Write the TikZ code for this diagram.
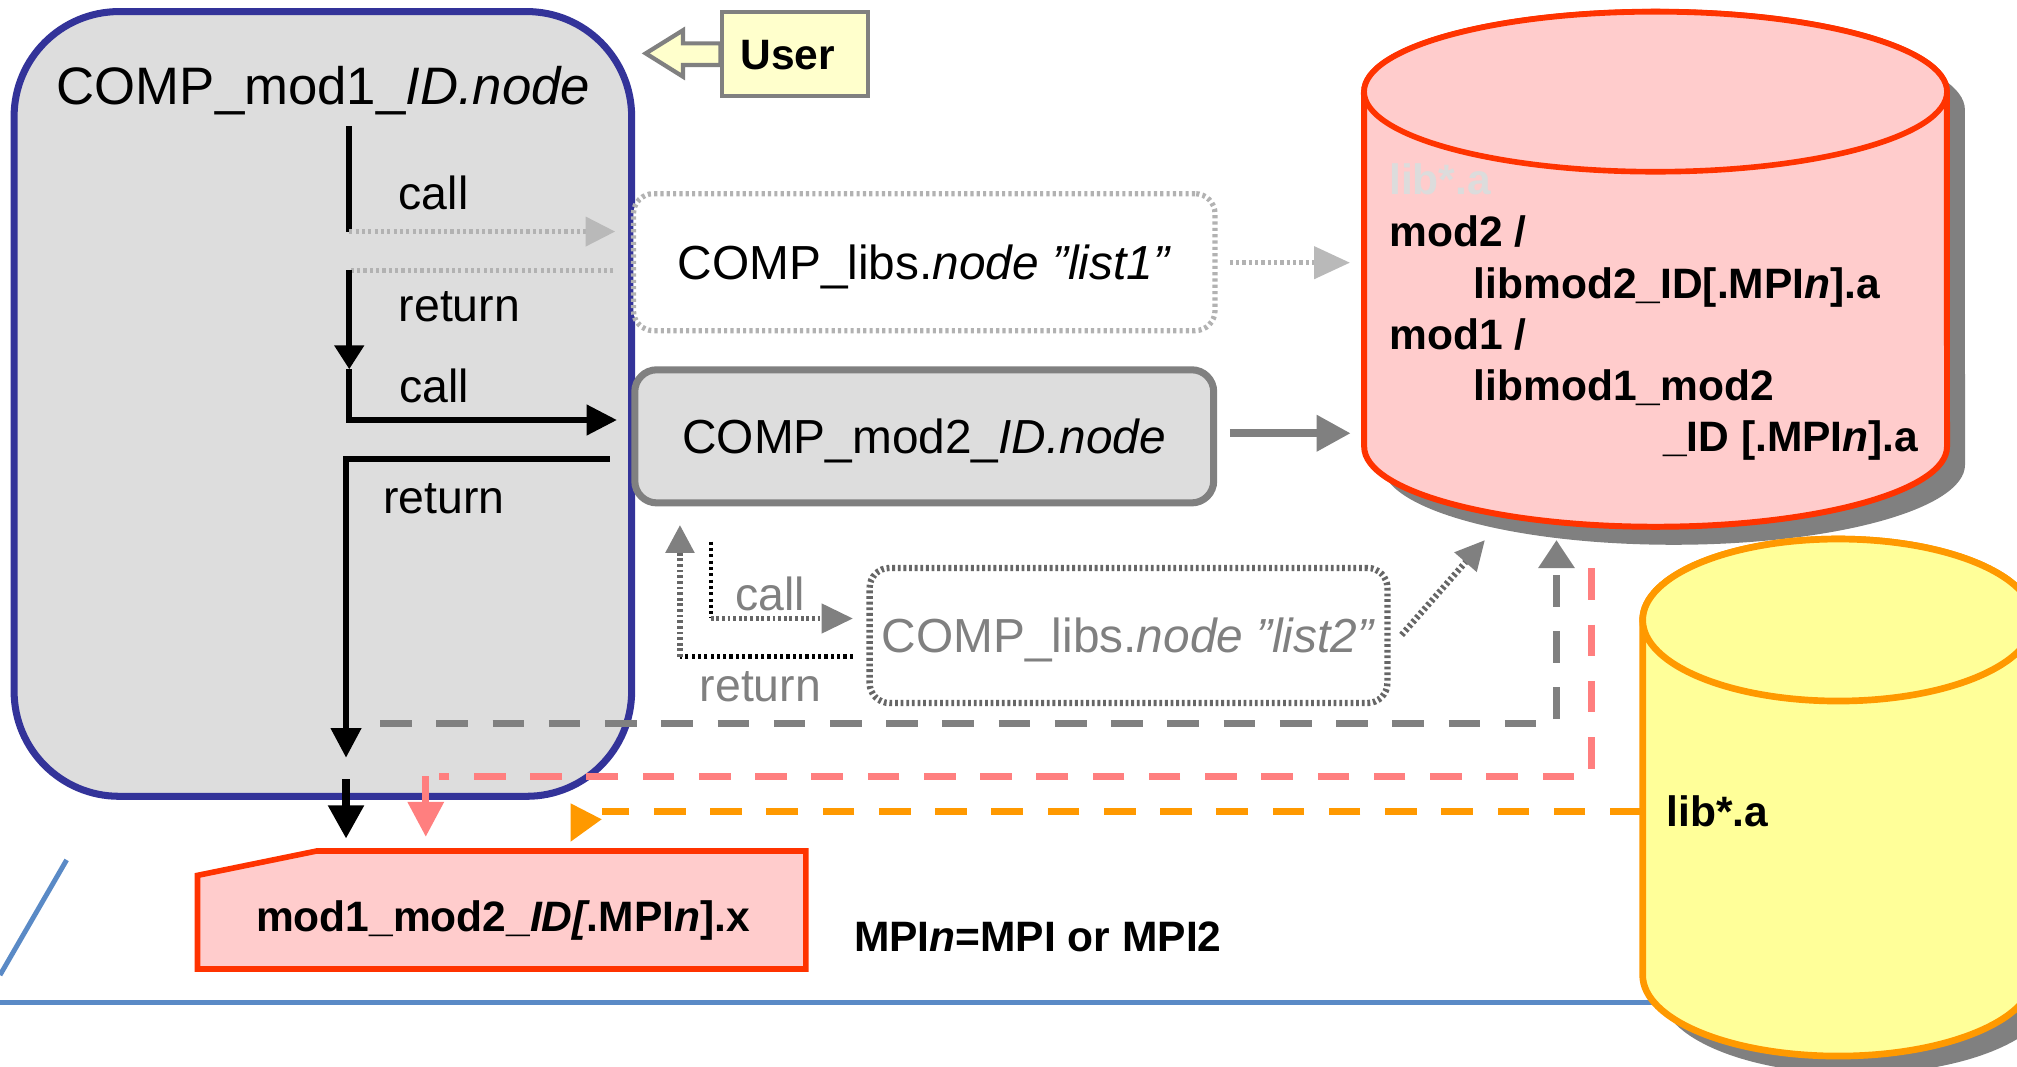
\documentclass[tikz,border=0pt]{standalone}
\usepackage{fontspec}
\setmainfont{Liberation Sans}
\usetikzlibrary{arrows.meta,backgrounds}
\definecolor{boxgray}{HTML}{DDDDDD}
\definecolor{navy}{HTML}{333399}
\definecolor{midgray}{HTML}{808080}
\definecolor{paleyellow}{HTML}{FFFFCC}
\definecolor{pinkfill}{HTML}{FFCCCC}
\definecolor{redline}{HTML}{FF3300}
\definecolor{yellowfill}{HTML}{FFFF99}
\definecolor{orangeline}{HTML}{FF9900}
\definecolor{pinkline}{HTML}{FF7F7F}
\definecolor{blueline}{HTML}{5A8AC6}
\definecolor{ghost}{HTML}{DCDCDC}
\begin{document}
\begin{tikzpicture}[x=0.012864cm, y=-0.012864cm,
  every node/.style={inner sep=0pt, outer sep=0pt},
  ftitle/.style={font=\fontsize{15}{18}\selectfont},
  fbox/.style={font=\fontsize{13.6}{16}\selectfont, text height=9.74pt, text depth=0pt},
  flabel/.style={font=\fontsize{13.2}{16}\selectfont},
  fbold/.style={font=\fontsize{12.1}{14.5}\selectfont\bfseries},
  blk/.style={draw=black, line width=1.6pt},
  gdash/.style={draw=midgray, line width=2pt, dash pattern=on 9pt off 7pt},
  pdash/.style={draw=pinkline, line width=2pt, dash pattern=on 9pt off 7pt},
  odash/.style={draw=orangeline, line width=2pt, dash pattern=on 9pt off 7pt},
  lightdot/.style={draw=gray!60, line width=1.5pt, dash pattern=on 0.9pt off 0.9pt},
  darkdot/.style={draw=black!60, line width=1.8pt, dash pattern=on 0.8pt off 0.8pt},
  blkdot/.style={draw=black, line width=1.1pt, dash pattern=on 0.9pt off 0.9pt},
  roundbox/.style={rounded corners=0.2cm, minimum width=#1},
]
\useasboundingbox (0,0) rectangle (1568,829);

% blue lines
\draw[blueline, line width=1.4pt] (0,779.4) -- (1300,779.4);
\draw[blueline, line width=1.4pt] (51.8,668.5) -- (0,758);

% big box mod1
\node[draw=navy, fill=boxgray, line width=2pt, rounded corners=1.05cm,
      minimum width=6.175cm, minimum height=7.847cm] (mod1) at (251,314) {};
\node[ftitle, anchor=base] (mod1t) at (251.5,81.6) {COMP\_mod1\_\textit{ID.node}};

% red cylinder (libraries)
\node[minimum width=5.827cm, minimum height=5.146cm] (libs) at (1287,209.3) {};
\fill[midgray] (1074.5,85.3) -- (1074.5,361.3) arc[start angle=180,end angle=360,x radius=2.914cm,y radius=0.8cm]
  -- (1527.5,85.3) arc[start angle=0,end angle=180,x radius=2.914cm,y radius=0.8cm] -- cycle;
\draw[redline, fill=pinkfill, line width=1.7pt] (1060.5,71.3) -- (1060.5,347.3) arc[start angle=180,end angle=360,x radius=2.914cm,y radius=0.8cm]
  -- (1513.5,71.3) arc[start angle=0,end angle=180,x radius=2.914cm,y radius=0.8cm] -- cycle;
\draw[redline, fill=pinkfill, line width=1.6pt] (1287,71.3) ellipse[x radius=2.914cm, y radius=0.8cm];
\node[fbold, text=ghost, anchor=base west] (lt0) at (1080,151.5) {lib*.a};
\node[fbold, anchor=base west] (lt1) at (1080,191.6) {mod2 /};
\node[fbold, anchor=base west] (lt2) at (1145.6,231.8) {libmod2\_ID[.MPI\textit{n}].a};
\node[fbold, anchor=base west] (lt3) at (1080,272) {mod1 /};
\node[fbold, anchor=base west] (lt4) at (1145.6,311.5) {libmod1\_mod2};
\node[fbold, anchor=base west] (lt5) at (1293,351.2) {\_ID [.MPI\textit{n}].a};

% yellow cylinder
\node[minimum width=3.911cm, minimum height=5.171cm] (liba) at (1429,620) {};
\fill[midgray] (1291,496) -- (1291,772) arc[start angle=180,end angle=360,x radius=1.955cm,y radius=0.81cm]
  -- (1595,496) arc[start angle=0,end angle=180,x radius=1.955cm,y radius=0.81cm] -- cycle;
\draw[orangeline, fill=yellowfill, line width=1.9pt] (1277,482) -- (1277,758) arc[start angle=180,end angle=360,x radius=1.955cm,y radius=0.81cm]
  -- (1581,482) arc[start angle=0,end angle=180,x radius=1.955cm,y radius=0.81cm] -- cycle;
\draw[orangeline, fill=yellowfill, line width=1.9pt] (1429,482) ellipse[x radius=1.955cm, y radius=0.81cm];
\node[fbold, anchor=base west] (yt) at (1295.6,642.6) {lib*.a};

% User
\draw[midgray, fill=paleyellow, line width=1.2pt, line join=miter]
  (502,41.5) -- (531,23.5) -- (531,33.7) -- (560,33.7) -- (560,50.5) -- (531,50.5) -- (531,59.6) -- cycle;
\node[draw=midgray, fill=paleyellow, line width=1.2pt, minimum width=1.467cm, minimum height=0.843cm] (user) at (618,41.8) {};
\node[fbold, anchor=base] (usert) at (612.5,54.4) {User};

% boxes
\node[fbox, lightdot, fill=white, rounded corners=0.2cm, minimum width=5.815cm, minimum height=1.37cm] (list1) at (718.5,203.8)
  {COMP\_libs.\textit{node ”list1”}};
\node[fbox, draw=midgray, fill=boxgray, line width=2pt, rounded corners=0.22cm, minimum width=5.789cm, minimum height=1.331cm] (mod2) at (718.5,339.2)
  {COMP\_mod2\_\textit{ID.node}};
\node[fbox, darkdot, fill=white, text=midgray, rounded corners=0.2cm, minimum width=5.178cm, minimum height=1.351cm] (list2) at (877.3,494)
  {COMP\_libs.\textit{node ”list2”}};

% x file
\node[fbold, anchor=base] (xfile) at (391,724.2) {mod1\_mod2\_\textit{ID[}.MPI\textit{n}].x};
\begin{scope}[on background layer]
\draw[redline, fill=pinkfill, line width=1.6pt, line join=miter]
  (153.5,680.5) -- (246.5,661.5) -- (626.5,661.5) -- (626.5,753.3) -- (153.5,753.3) -- cycle;
\end{scope}
\node[fbold, anchor=base west] (mpinote) at (664,739.8) {MPI\textit{n}=MPI or MPI2};

% labels
\node[flabel, anchor=base west] (call1) at (310,163.2) {call};
\node[flabel, anchor=base west] (ret1) at (310,250) {return};
\node[flabel, anchor=base west] (call2) at (310.4,312.9) {call};
\node[flabel, anchor=base west] (ret2) at (297.9,398.8) {return};
\node[flabel, anchor=base west, text=midgray] (call3) at (571.4,474.2) {call};
\node[flabel, anchor=base west, text=midgray] (ret3) at (544,545.4) {return};

% flow coordinates
\coordinate (a0) at (271.5,98);
\coordinate (a1) at (271.5,180);
\coordinate (c1) at (478.3,180);
\coordinate (r1) at (476.8,210);
\coordinate (a2) at (271.5,210);
\coordinate (a3) at (271.5,287);
\coordinate (a4) at (271.5,326.5);
\coordinate (c2) at (479.6,326.5);
\coordinate (r2) at (474,357);
\coordinate (a5) at (269,357);
\coordinate (a6) at (269,589);
\coordinate (b0) at (269,605.6);
\coordinate (b1) at (269,652);

\draw[blk] (a0) -- (a1);
\draw[lightdot, -{Triangle[length=8.4pt,width=8.1pt,color=gray!55]}] (a1) -- (c1);
\draw[lightdot] (r1) -- (a2);
\draw[blk, -{Triangle[length=6.8pt,width=8.2pt]}] (a2) -- (a3);
\draw[blk, line join=miter, -{Triangle[length=8.6pt,width=8.4pt]}] (a3) -- (a4) -- (c2);
\draw[blk, line join=miter, -{Triangle[length=8.4pt,width=8.4pt]}] (r2) -- (a5) -- (a6);
\draw[draw=black, line width=2.3pt, -{Triangle[length=9.5pt,width=9.7pt]}] (b0) -- (b1);

% list2 call / return
\coordinate (u0) at (663,510.6);
\coordinate (u1) at (528.6,510.6);
\coordinate (u2) at (528.6,408);
\coordinate (k0) at (552.5,421);
\coordinate (k1) at (552.5,480.8);
\coordinate (k2) at (663,480.8);
\draw[blkdot, line width=1.4pt] (u0) -- (u1);
\draw[darkdot, -{Triangle[length=8pt,width=7.9pt,color=black!50]}] (u1) -- (u2);
\draw[blkdot] (k0) -- (k1);
\draw[darkdot, line width=1.2pt, -{Triangle[length=8.9pt,width=8.3pt,color=black!50]}] (k1) -- (k2);

% to libraries
\coordinate (l1a) at (956,204.2);
\coordinate (l1b) at (1049.5,204.2);
\draw[lightdot, -{Triangle[length=10.2pt,width=9pt,color=gray!55]}] (l1a) -- (l1b);
\coordinate (m2a) at (956,336.8);
\coordinate (m2b) at (1050,336.8);
\draw[midgray, line width=2.2pt, -{Triangle[length=9.7pt,width=9.9pt]}] (m2a) -- (m2b);
\coordinate (l2a) at (1089.6,493.6);
\coordinate (l2b) at (1154.4,419.8);
\draw[darkdot, -{Triangle[length=8.4pt,width=8pt,color=black!50]}] (l2a) -- (l2b);

% dashed link lines
\coordinate (g0) at (295.5,562.6);
\coordinate (g1) at (1210,562.6);
\coordinate (g2) at (1210,419.8);
\draw[gdash, -{Triangle[length=8pt,width=9.9pt]}] (g0) -- (g1) -- (g2);
\coordinate (p0) at (1237,441.8);
\coordinate (p1) at (1237,603.4);
\coordinate (p2) at (341.6,603.4);
\draw[pdash] (p0) -- (p1) -- (p2);
\coordinate (p3) at (331,603.6);
\coordinate (p4) at (331,650.6);
\draw[pinkline, line width=2.1pt, -{Triangle[length=10pt,width=9.9pt]}] (p3) -- (p4);
\coordinate (o0) at (1276.2,630.5);
\coordinate (o1) at (468,630.5);
\draw[odash] (o0) -- (o1);
\fill[orangeline] (443.6,624.5) -- (443.6,654.3) -- (467.7,636.9) -- cycle;
\end{tikzpicture}
\end{document}
